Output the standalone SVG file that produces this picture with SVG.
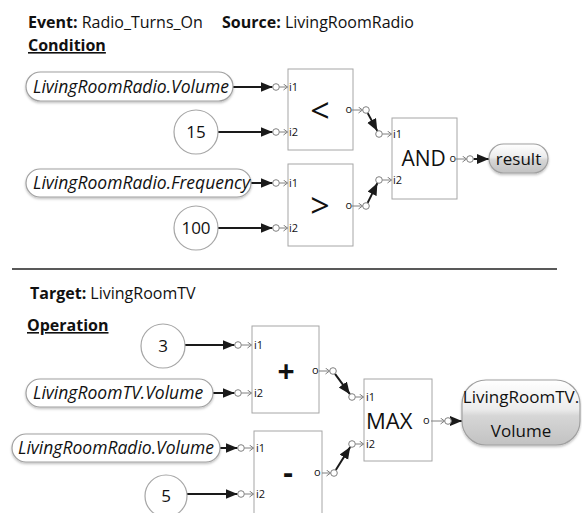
<svg xmlns="http://www.w3.org/2000/svg" width="582" height="513" viewBox="0 0 582 513">
<defs>
<style>
text{font-family:"Open Sans","Liberation Sans",sans-serif;fill:#111}
.hdr{font-size:16px}
.b{font-weight:bold}
.box{fill:#fff;stroke:#a6a6a6;stroke-width:1}
.pill{fill:#fff;stroke:#a0a0a0;stroke-width:1.2;filter:url(#sh)}
.gpill{fill:url(#gg);stroke:#a0a0a0;stroke-width:1.2;filter:url(#sh)}
.num{fill:#fff;stroke:#a6a6a6;stroke-width:1.2}
.port{fill:#fff;stroke:#808080;stroke-width:1}
.thin{stroke:#808080;stroke-width:1;fill:none;marker-end:url(#chev)}
.conn{stroke:#1a1a1a;stroke-width:2;fill:none;marker-end:url(#ah)}
.pl{font-size:11px}
.it{font-style:italic;font-size:17.5px}
.n{font-size:17px;text-anchor:middle}
.op{text-anchor:middle}
</style>
<marker id="ah" markerUnits="userSpaceOnUse" markerWidth="13" markerHeight="11" refX="12" refY="5" orient="auto">
<path d="M0,0 L12,5 L0,10 z" fill="#1a1a1a"/>
</marker>
<marker id="chev" markerUnits="userSpaceOnUse" markerWidth="6" markerHeight="8" refX="4.5" refY="3.5" orient="auto">
<path d="M0.5,0.5 L4.5,3.5 L0.5,6.5" fill="none" stroke="#808080" stroke-width="1"/>
</marker>
<linearGradient id="gg" x1="0" y1="0" x2="0" y2="1">
<stop offset="0" stop-color="#ffffff"/>
<stop offset="0.45" stop-color="#ececec"/>
<stop offset="0.55" stop-color="#d6d6d6"/>
<stop offset="1" stop-color="#c2c2c2"/>
</linearGradient>
<filter id="sh" x="-10%" y="-20%" width="120%" height="150%">
<feDropShadow dx="0" dy="1.5" stdDeviation="1" flood-color="#000" flood-opacity="0.25"/>
</filter>
</defs>

<g id="header">
<text class="hdr" x="28" y="28"><tspan class="b">Event:</tspan> Radio_Turns_On<tspan class="b" x="222">Source:</tspan> LivingRoomRadio</text>
<text class="hdr b" x="28" y="51" text-decoration="underline">Condition</text>
<line x1="12" y1="269" x2="557" y2="269" stroke="#222" stroke-width="1.5"/>
<text class="hdr" x="30" y="299"><tspan class="b">Target:</tspan> LivingRoomTV</text>
<text class="hdr b" x="27" y="331" text-decoration="underline">Operation</text>
</g>

<g id="connectors">
<line class="conn" x1="233" y1="87" x2="272.5" y2="87"/>
<line class="conn" x1="218" y1="132" x2="272.5" y2="132"/>
<line class="conn" x1="251" y1="183" x2="272.5" y2="183"/>
<line class="conn" x1="218" y1="228" x2="272.5" y2="228"/>
<line class="conn" x1="367.7" y1="113.1" x2="377.3" y2="130.9"/>
<line class="conn" x1="367.6" y1="202.9" x2="377.4" y2="183.1"/>
<line class="conn" x1="473.5" y1="159" x2="489" y2="159"/>
<line class="conn" x1="185" y1="345" x2="234.5" y2="345"/>
<line class="conn" x1="213" y1="393" x2="234.5" y2="393"/>
<line class="conn" x1="220" y1="448" x2="237.5" y2="448"/>
<line class="conn" x1="187" y1="494" x2="237.5" y2="494"/>
<line class="conn" x1="335" y1="373.8" x2="349.9" y2="394.2"/>
<line class="conn" x1="335.8" y1="470" x2="350.2" y2="447"/>
<line class="conn" x1="451.5" y1="421" x2="462" y2="421"/>
</g>

<g id="n-radio-volume">
<rect class="pill" x="26" y="72" width="207" height="29" rx="14.5"/>
<text class="it" x="33" y="92.5">LivingRoomRadio.Volume</text>
</g>
<g id="n-15">
<circle class="num" cx="196" cy="132" r="22"/>
<text class="n" x="196" y="138">15</text>
</g>
<g id="n-radio-frequency">
<rect class="pill" x="26" y="169" width="225" height="28" rx="14"/>
<text class="it" x="33" y="189">LivingRoomRadio.Frequency</text>
</g>
<g id="n-100">
<circle class="num" cx="196" cy="228" r="22"/>
<text class="n" x="196" y="234">100</text>
</g>

<g id="n-lt">
<rect class="box" x="288" y="69" width="65" height="81"/>
<text class="op" x="320" y="123" font-size="34">&lt;</text>
<circle class="port" cx="276" cy="87" r="3.3"/><line class="thin" x1="279.5" y1="87" x2="287.5" y2="87"/><text class="pl" x="289" y="91">i1</text>
<circle class="port" cx="276" cy="132" r="3.3"/><line class="thin" x1="279.5" y1="132" x2="287.5" y2="132"/><text class="pl" x="289" y="136">i2</text>
<text class="pl" x="345.5" y="113">o</text><line class="thin" x1="352" y1="110" x2="362.5" y2="110"/><circle class="port" cx="366" cy="110" r="3.3"/>
</g>
<g id="n-gt">
<rect class="box" x="288" y="164" width="65" height="82"/>
<text class="op" x="320" y="218" font-size="34">&gt;</text>
<circle class="port" cx="276" cy="183" r="3.3"/><line class="thin" x1="279.5" y1="183" x2="287.5" y2="183"/><text class="pl" x="289" y="187">i1</text>
<circle class="port" cx="276" cy="228" r="3.3"/><line class="thin" x1="279.5" y1="228" x2="287.5" y2="228"/><text class="pl" x="289" y="232">i2</text>
<text class="pl" x="345.5" y="209">o</text><line class="thin" x1="352" y1="206" x2="362.5" y2="206"/><circle class="port" cx="366" cy="206" r="3.3"/>
</g>
<g id="n-and">
<rect class="box" x="392" y="118" width="65" height="81"/>
<text x="401.5" y="166" font-size="21">AND</text>
<circle class="port" cx="379" cy="134" r="3.3"/><line class="thin" x1="382.5" y1="134" x2="391.5" y2="134"/><text class="pl" x="393" y="138">i1</text>
<circle class="port" cx="379" cy="180" r="3.3"/><line class="thin" x1="382.5" y1="180" x2="391.5" y2="180"/><text class="pl" x="393" y="184">i2</text>
<text class="pl" x="449.5" y="162">o</text><line class="thin" x1="456" y1="159" x2="466.5" y2="159"/><circle class="port" cx="470" cy="159" r="3.3"/>
</g>
<g id="n-result">
<rect class="gpill" x="489" y="144" width="59" height="29" rx="14.5"/>
<text x="518.5" y="164.5" font-size="17" text-anchor="middle">result</text>
</g>

<g id="n-3">
<circle class="num" cx="163" cy="346" r="22"/>
<text class="n" x="163" y="352">3</text>
</g>
<g id="n-tv-volume">
<rect class="pill" x="26" y="379" width="187" height="28" rx="14"/>
<text class="it" x="33" y="399">LivingRoomTV.Volume</text>
</g>
<g id="n-radio-volume2">
<rect class="pill" x="12" y="434" width="208" height="28" rx="14"/>
<text class="it" x="18" y="454">LivingRoomRadio.Volume</text>
</g>
<g id="n-5">
<circle class="num" cx="166" cy="496" r="21"/>
<text class="n" x="166" y="502">5</text>
</g>

<g id="n-plus">
<rect class="box" x="252" y="326" width="67" height="87"/>
<text class="op b" x="286" y="382" font-size="30">+</text>
<circle class="port" cx="238" cy="345" r="3.3"/><line class="thin" x1="241.5" y1="345" x2="251.5" y2="345"/><text class="pl" x="254" y="349">i1</text>
<circle class="port" cx="238" cy="393" r="3.3"/><line class="thin" x1="241.5" y1="393" x2="251.5" y2="393"/><text class="pl" x="254" y="397">i2</text>
<text class="pl" x="312" y="374">o</text><line class="thin" x1="319" y1="371" x2="329.5" y2="371"/><circle class="port" cx="333" cy="371" r="3.3"/>
</g>
<g id="n-minus">
<rect class="box" x="254" y="431" width="68" height="95"/>
<text class="op b" x="288" y="483" font-size="30">-</text>
<circle class="port" cx="241" cy="448" r="3.3"/><line class="thin" x1="244.5" y1="448" x2="253.5" y2="448"/><text class="pl" x="256" y="452">i1</text>
<circle class="port" cx="241" cy="494" r="3.3"/><line class="thin" x1="244.5" y1="494" x2="253.5" y2="494"/><text class="pl" x="256" y="498">i2</text>
<text class="pl" x="314" y="476">o</text><line class="thin" x1="322" y1="473" x2="330.5" y2="473"/><circle class="port" cx="334" cy="473" r="3.3"/>
</g>
<g id="n-max">
<rect class="box" x="364" y="379" width="68" height="82"/>
<text x="366" y="428.5" font-size="22">MAX</text>
<circle class="port" cx="352" cy="397" r="3.3"/><line class="thin" x1="355.5" y1="397" x2="363.5" y2="397"/><text class="pl" x="366" y="401">i1</text>
<circle class="port" cx="352" cy="444" r="3.3"/><line class="thin" x1="355.5" y1="444" x2="363.5" y2="444"/><text class="pl" x="366" y="448">i2</text>
<text class="pl" x="423" y="424">o</text><line class="thin" x1="431" y1="421" x2="444.5" y2="421"/><circle class="port" cx="448" cy="421" r="3.3"/>
</g>
<g id="n-tv-volume-out">
<rect class="gpill" x="462" y="380" width="118" height="65" rx="24"/>
<text x="521" y="403" font-size="17" text-anchor="middle">LivingRoomTV.</text>
<text x="521" y="437" font-size="17" text-anchor="middle">Volume</text>
</g>
</svg>
